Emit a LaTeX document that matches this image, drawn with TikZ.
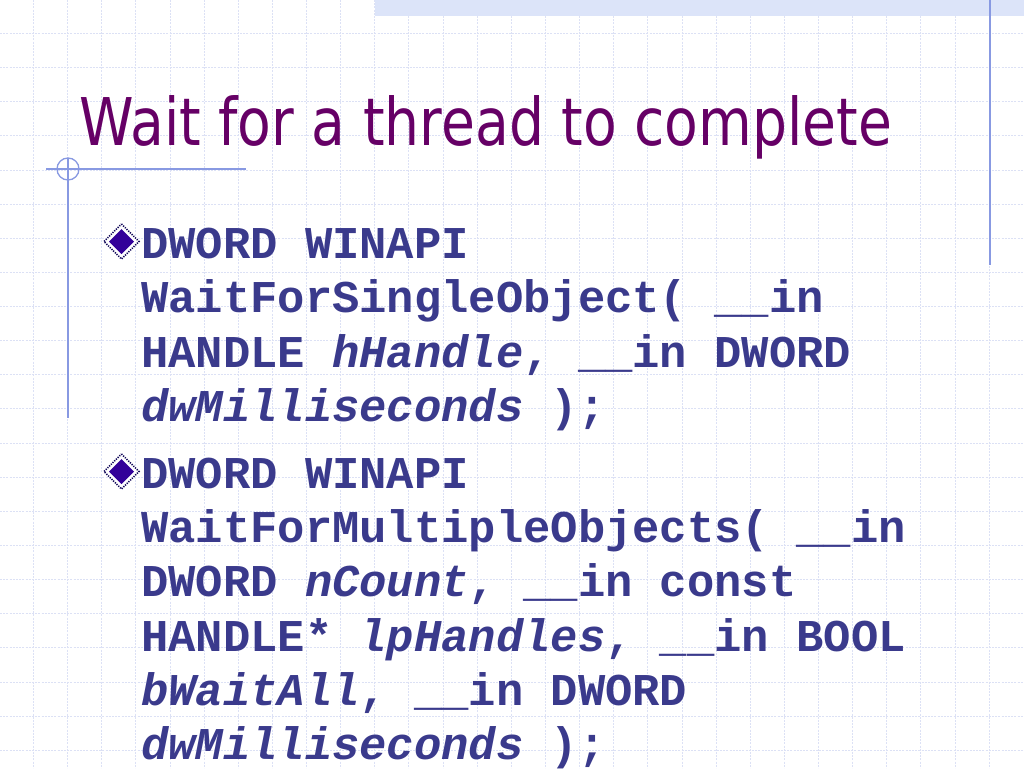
\documentclass[tikz,border=0pt]{standalone}
\usepackage{fontspec}
\usepackage{graphicx}
\newfontfamily\titlefont{DejaVu Sans}
\newfontfamily\codefont{Liberation Mono}
\definecolor{gridc}{RGB}{220,225,245}
\definecolor{bandc}{RGB}{220,228,249}
\definecolor{linec}{RGB}{136,153,226}
\definecolor{titlec}{RGB}{102,0,102}
\definecolor{codec}{RGB}{58,58,140}
\definecolor{bulletc}{RGB}{51,0,153}
\definecolor{bulletedge}{RGB}{20,10,90}
\tikzset{
  gridline/.style={draw=gridc, line width=0.9pt, dash pattern=on 2pt off 1.2pt},
  deco/.style={draw=linec, line width=1.3pt},
  titletext/.style={anchor=base west, inner sep=0pt, text=titlec, font=\titlefont\fontsize{65.8}{70}\selectfont},
  codeline/.style={anchor=base west, inner sep=0pt, text=codec, font=\codefont\bfseries\fontsize{45.5}{54}\selectfont},
  bulletout/.style={draw=bulletedge, line width=1.6pt, dash pattern=on 1.2pt off 1.2pt, fill=white},
  bulletin/.style={fill=bulletc, draw=none}
}
\begin{document}
\begin{tikzpicture}[x=1pt,y=-1pt]
\useasboundingbox (0,0) rectangle (1024,768);
\fill[white] (0,0) rectangle (1024,768);
% grid
\foreach \k in {1,...,29}{
  \draw[gridline] ({\k*34.1333-0.7},0) -- ({\k*34.1333-0.7},768);
}
\foreach \k in {1,...,22}{
  \draw[gridline] (0,{\k*34.1333-0.7}) -- (1024,{\k*34.1333-0.7});
}
% top band
\fill[bandc] (375,0) rectangle (1024,16);
% decorative lines
\draw[deco] (990,0) -- (990,265);
\draw[deco] (46,169) -- (246,169);
\draw[deco] (68,158) -- (68,418);
\draw[deco] (68,169) circle (11);
% title
\node[titletext] (title) at (79,145) {\resizebox{813pt}{\height}{Wait for a thread to complete}};
% bullets
\foreach \cy in {241.5, 471.5}{
  \path[bulletout] (121.5,\cy-17.5) -- (139,\cy) -- (121.5,\cy+17.5) -- (104,\cy) -- cycle;
  \path[bulletin] (121.5,\cy-12.5) -- (134,\cy) -- (121.5,\cy+12.5) -- (109,\cy) -- cycle;
}
% code lines, bullet 1
\node[codeline] (l1) at (141,258) {DWORD WINAPI};
\node[codeline] (l2) at (141,312.5) {WaitForSingleObject( \_\_in};
\node[codeline] (l3) at (141,367) {HANDLE {\itshape hHandle}, \_\_in DWORD};
\node[codeline] (l4) at (141,421) {{\itshape dwMilliseconds} );};
% bullet 2
\node[codeline] (m1) at (141,488) {DWORD WINAPI};
\node[codeline] (m2) at (141,542) {WaitForMultipleObjects( \_\_in};
\node[codeline] (m3) at (141,596.5) {DWORD {\itshape nCount}, \_\_in const};
\node[codeline] (m4) at (141,651) {HANDLE* {\itshape lpHandles}, \_\_in BOOL};
\node[codeline] (m5) at (141,705) {{\itshape bWaitAll}, \_\_in DWORD};
\node[codeline] (m6) at (141,759) {{\itshape dwMilliseconds} );};
\end{tikzpicture}
\end{document}
